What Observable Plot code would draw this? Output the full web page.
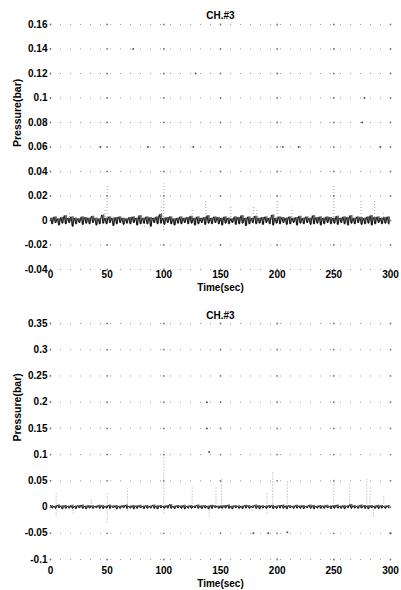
<!DOCTYPE html>
<html><head><meta charset="utf-8">
<script src="https://cdn.jsdelivr.net/npm/d3@7"></script>
<script src="https://cdn.jsdelivr.net/npm/@observablehq/plot@0.6"></script>
<style>
body{margin:0;background:#fff;}
#chart{width:401px;}
#chart svg{display:block;}
</style></head><body><div id="chart"></div>
<script>
// ---- shared ----
const titleText = "CH.#3";
const xLabel = "Time(sec)";
const yLabel = "Pressure(bar)";
const xTicks = [0, 50, 100, 150, 200, 250, 300];
const binSec = 3; // noise envelope sampled every 3 s (values in mbar)

// ---- panel A (top) ----
const yTicksA = [-0.04, -0.02, 0, 0.02, 0.04, 0.06, 0.08, 0.1, 0.12, 0.14, 0.16];
const yTickLabelsA = ["-0.04", "-0.02", "0", "0.02", "0.04", "0.06", "0.08", "0.1", "0.12", "0.14", "0.16"];
const hiA = [2,3,1.5,2.5,4,2,3,2,1.5,3, 2.5,2,3.5,2,1.5,4.5,2,3,2,2.5, 3,2,1.5,2.5,3,2,4,2,3,2.5, 2,3,5,2,2.5,3,1.5,2,3,2, 2.5,3.5,2,3,2,2.5,4,2,3,2.5, 2,3,2,1.5,3,2.5,4,2,3,2, 3.5,2,2.5,3,2,4.5,2,3,2.5,2, 3,2,2.5,3.5,2,3,2,4,2.5,3, 2,3,2.5,2,3.5,2,3,2.5,4,2, 3,2.5,2,3,4,2.5,3,2,2.5,3];
const loA = [-3,-2,-4,-2.5,-3,-2,-5,-3,-2,-3.5, -2.5,-3,-2,-4,-3,-2.5,-3,-2,-4.5,-3, -2,-3.5,-2.5,-3,-2,-4,-3,-2.5,-3,-5, -2,-3,-2.5,-3.5,-2,-3,-4,-2.5,-3,-2, -3,-2.5,-4,-3,-2,-3.5,-2.5,-3,-2,-3, -4,-2.5,-3,-2,-3.5,-3,-2.5,-4.5,-3,-2, -3,-2.5,-3.5,-2,-3,-4,-2.5,-3,-2,-3.5, -3,-2,-4,-2.5,-3,-2,-3.5,-3,-2.5,-4, -3,-2,-3,-2.5,-3.5,-2,-3,-4,-2.5,-3, -2,-3.5,-3,-2.5,-4,-3,-2,-3,-2.5,-3];
const spikeAT = [17, 48, 50, 83, 98, 100, 105, 125, 137, 159, 179, 182, 200, 213, 250, 274, 286, 294, 179, 100];
const spikeAV = [6, 10, 28, -6, 12, 30, 5, 10, 17, 11, 11, 9, 17, 10, 28, 17, 17, 7, -5, -9];
const dotAT = [44, 73, 86, 126, 128, 205, 219, 275, 277, 291];
const dotAV = [60, 140, 60, 60, 120, 60, 60, 80, 100, 60];

// ---- panel B (bottom) ----
const yTicksB = [-0.1, -0.05, 0, 0.05, 0.1, 0.15, 0.2, 0.25, 0.3, 0.35];
const yTickLabelsB = ["-0.1", "-0.05", "0", "0.05", "0.1", "0.15", "0.2", "0.25", "0.3", "0.35"];
const hiB = [3,2,4,2.5,3,2,3.5,2,3,4, 2,3,2.5,2,3.5,3,2,4,2.5,3, 2,3,4,2,3,2.5,3.5,2,3,2, 4,2.5,3,2,3,5,2,3,2.5,3.5, 2,3,2,4,2.5,3,2,3.5,3,2, 2.5,3,4,2,3,2.5,2,3.5,3,2, 4,3,2.5,2,3,3.5,2,3,4,2.5, 3,2,3.5,2.5,3,2,4,3,2,3, 2.5,3.5,2,3,4,2,3,2.5,5,3, 2,4,3,2.5,3,2,3.5,3,2,3];
const loB = [-2.5,-3,-2,-4,-3,-2.5,-3,-3.5,-2,-3, -4,-2.5,-3,-2,-3,-3.5,-2.5,-3,-2,-4, -3,-2,-3,-2.5,-4,-3,-2,-3.5,-3,-2.5, -3,-4,-2,-3,-2.5,-3,-3.5,-2,-3,-4, -2.5,-3,-2,-3,-3.5,-2.5,-4,-3,-2,-3, -3,-2.5,-3,-4,-2,-3,-3.5,-2.5,-3,-2, -3,-4,-2.5,-3,-2,-3.5,-3,-2.5,-3,-4, -2,-3,-2.5,-3,-3.5,-2,-3,-4,-2.5,-3, -3,-2,-3.5,-3,-2.5,-3,-4,-2,-3,-2.5, -3,-2.5,-3,-4,-2,-3,-3.5,-2.5,-3,-2];
const spikeBT = [5, 5, 20, 36, 50, 50, 68, 68, 100, 100, 125, 140, 146, 151, 178, 191, 191, 196, 209, 250, 264, 279, 282, 285, 294];
const spikeBV = [26, -20, -13, 17, 28, -34, 35, -10, 106, -15, 37, -20, 40, 53, -10, 28, -15, 68, 50, 52, 45, 53, 40, -20, 22];
const dotBT = [138, 138, 140, 179, 192, 209, 300];
const dotBV = [200, 150, 105, -50, -50, -48, -50];

function panel(o) {
  const zig = [];
  const env = [];
  o.hi.forEach((h, i) => {
    zig.push({t: i * binSec, v: h / 1000});
    zig.push({t: i * binSec + binSec / 2, v: o.lo[i] / 1000});
    env.push({t: i * binSec + binSec / 2, hi: h / 1000, lo: o.lo[i] / 1000});
  });
  const spikes = o.spikeT.map((t, i) => ({t, v: o.spikeV[i] / 1000}));
  const dots = o.dotT.map((t, i) => ({t, v: o.dotV[i] / 1000}));
  const cross = xTicks.flatMap(x => o.yTicks.map(y => ({x, y})));
  return Plot.plot({
    width: 401, height: o.height,
    marginLeft: 50, marginRight: 11, marginTop: o.marginTop, marginBottom: o.marginBottom,
    style: {fontFamily: "'Liberation Sans', Arial, sans-serif", fontSize: "10px", fontWeight: "bold", color: "#000", background: "#fff"},
    x: {domain: [0, 300], ticks: xTicks, tickSize: 0, tickPadding: o.xPad, tickFormat: d => String(d), label: null},
    y: {domain: [o.yTicks[0], o.yTicks[o.yTicks.length - 1]], ticks: o.yTicks, tickSize: 0, tickPadding: 3,
        tickFormat: d => o.yLabels[o.yTicks.indexOf(d)], label: null},
    marks: [
      Plot.ruleY(o.yTicks, {stroke: "#9a9a9a", strokeDasharray: "1,9", strokeWidth: 1}),
      Plot.dot(cross, {x: "x", y: "y", r: 0.9, fill: "#777", stroke: null}),
      Plot.ruleX(spikes, {x: "t", y1: 0, y2: "v", stroke: "#999", strokeDasharray: "1,2", strokeWidth: 0.9}),
      Plot.ruleX(env, {x: "t", y1: "lo", y2: "hi", stroke: "#666", strokeWidth: o.bandW}),
      Plot.line(zig, {x: "t", y: "v", stroke: "#000", strokeWidth: 0.8}),
      Plot.dot(dots, {x: "t", y: "v", r: 1, fill: "#555", stroke: null}),
      Plot.text([titleText], {frameAnchor: "top", lineAnchor: "middle", dy: o.titleDy, fontSize: 10, fontWeight: "bold"}),
      Plot.text([yLabel], {frameAnchor: "left", lineAnchor: "middle", dx: -33, rotate: -90, fontSize: 10.5, fontWeight: "bold"}),
      Plot.text([xLabel], {frameAnchor: "bottom", lineAnchor: "middle", dy: o.xLabelDy, fontSize: 10, fontWeight: "bold"})
    ]
  });
}

const root = document.getElementById("chart");
root.appendChild(panel({
  height: 295, marginTop: 24, marginBottom: 26, xPad: 1, titleDy: -9, xLabelDy: 18, bandW: 2.4,
  yTicks: yTicksA, yLabels: yTickLabelsA, hi: hiA, lo: loA,
  spikeT: spikeAT, spikeV: spikeAV, dotT: dotAT, dotV: dotAV
}));
root.appendChild(panel({
  height: 295, marginTop: 28, marginBottom: 31, xPad: 7, titleDy: -8, xLabelDy: 24, bandW: 2,
  yTicks: yTicksB, yLabels: yTickLabelsB, hi: hiB, lo: loB,
  spikeT: spikeBT, spikeV: spikeBV, dotT: dotBT, dotV: dotBV
}));
</script></body></html>
